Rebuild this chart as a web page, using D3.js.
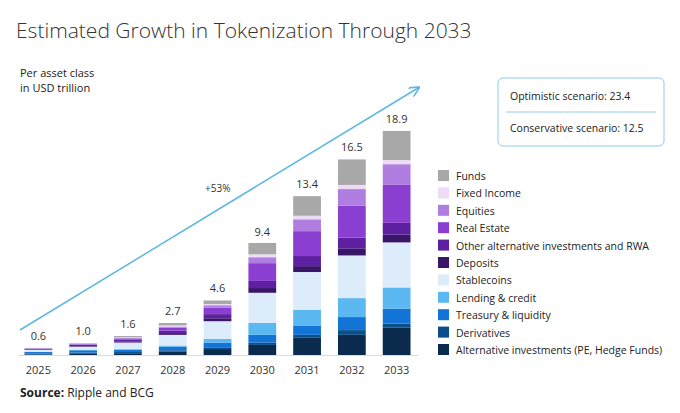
<!DOCTYPE html>
<html><head><meta charset="utf-8">
<script src="https://cdn.jsdelivr.net/npm/d3@7"></script>
<style>body{margin:0;background:#fff;font-family:"Open Sans",sans-serif}</style>
</head><body>
<svg id="chart" width="680" height="413"></svg>
<script>
var years = ["2025","2026","2027","2028","2029","2030","2031","2032","2033"];
var totals = ["0.6","1.0","1.6","2.7","4.6","9.4","13.4","16.5","18.9"];
var classes = ["Alternative investments (PE, Hedge Funds)","Derivatives","Treasury & liquidity","Lending & credit","Stablecoins","Deposits","Other alternative investments and RWA","Real Estate","Equities","Fixed Income","Funds"];
var colors = ["#0a2b4e","#0b4f8a","#1274d6","#5bb8f0","#dcecfb","#3a1668","#5d20a0","#8a3fd0","#b07ee0","#ecdcf5","#a8a8a8"];
// rows follow classes order, columns follow years
var altInv     = [0.05,0.1,0.15,0.3,0.5,0.85,1.45,1.7,2.3];
var derivs     = [0.05,0.1,0.1,0.1,0.15,0.2,0.25,0.4,0.35];
var treasury   = [0.15,0.2,0.2,0.3,0.4,0.65,0.75,1.1,1.25];
var lending    = [0.03,0.05,0.05,0.1,0.3,1.0,1.35,1.6,1.8];
var stable     = [0.15,0.25,0.55,0.9,1.5,2.55,3.2,3.6,3.8];
var deposits   = [0.03,0.05,0.1,0.15,0.25,0.4,0.5,0.6,0.65];
var otherAlt   = [0.05,0.1,0.15,0.2,0.35,0.6,0.85,0.9,1.0];
var realEstate = [0.04,0.05,0.1,0.25,0.55,1.5,2.1,2.7,3.2];
var equities   = [0.02,0.03,0.05,0.1,0.2,0.5,1.0,1.4,1.75];
var fixedInc   = [0.01,0.02,0.05,0.1,0.1,0.25,0.3,0.35,0.35];
var funds      = [0.02,0.05,0.1,0.2,0.3,0.95,1.65,2.15,2.45];
var series = [altInv,derivs,treasury,lending,stable,deposits,otherAlt,realEstate,equities,fixedInc,funds];

var svg = d3.select("#chart");
var x = d3.scaleBand().domain(years).range([20,415]).paddingInner(0.38).paddingOuter(0.1);
var y = d3.scaleLinear().domain([0,18.9]).range([355,131]);

svg.append("text").attr("x",16).attr("y",38).attr("font-size",21).attr("font-weight",300)
  .attr("fill","#333").text("Estimated Growth in Tokenization Through 2033");
svg.append("text").attr("x",20).attr("y",77).attr("font-size",11).attr("fill","#222").text("Per asset class");
svg.append("text").attr("x",20).attr("y",92).attr("font-size",11).attr("fill","#222").text("in USD trillion");

// arrow
svg.append("defs").append("marker").attr("id","ah").attr("viewBox","0 0 10 10").attr("refX",8).attr("refY",5)
  .attr("markerWidth",7).attr("markerHeight",7).attr("orient","auto")
  .append("path").attr("d","M0,0 L10,5 L0,10").attr("fill","none").attr("stroke","#5bb8e0").attr("stroke-width",1.5);
svg.append("line").attr("x1",20).attr("y1",330).attr("x2",418).attr("y2",88)
  .attr("stroke","#5bb8e0").attr("stroke-width",1.5).attr("marker-end","url(#ah)");
svg.append("text").attr("x",205).attr("y",192).attr("font-size",10).attr("fill","#333").text("+53%");

years.forEach(function(yr,i){
  var base = 0;
  series.forEach(function(s,k){
    svg.append("rect").attr("x",x(yr)).attr("width",x.bandwidth())
      .attr("y",y(base+s[i])).attr("height",y(base)-y(base+s[i])).attr("fill",colors[k]);
    base += s[i];
  });
  svg.append("text").attr("x",x(yr)+x.bandwidth()/2).attr("y",y(+totals[i])-8)
    .attr("text-anchor","middle").attr("font-size",11).attr("fill","#333").text(totals[i]);
});
svg.append("line").attr("x1",18).attr("x2",418).attr("y1",355.5).attr("y2",355.5).attr("stroke","#ddd");

var xAxis = svg.append("g").attr("transform","translate(0,356)")
  .call(d3.axisBottom(x).tickSize(0).tickPadding(10));
xAxis.select(".domain").remove();
xAxis.selectAll("text").attr("font-size",11).attr("fill","#333").attr("font-family","Open Sans");

// legend, top to bottom is reverse stack
var lg = svg.append("g");
classes.slice().reverse().forEach(function(c,j){
  var k = classes.length-1-j;
  lg.append("rect").attr("x",438).attr("y",170+j*17.4).attr("width",11).attr("height",11).attr("fill",colors[k]);
  lg.append("text").attr("x",456).attr("y",180+j*17.4).attr("font-size",10.5).attr("fill","#222").text(c);
});

// scenario box
svg.append("rect").attr("x",498).attr("y",78).attr("width",166).attr("height",68).attr("rx",5)
  .attr("fill","#fff").attr("stroke","#8fcbe8");
svg.append("line").attr("x1",506).attr("x2",656).attr("y1",112).attr("y2",112).attr("stroke","#8fcbe8");
svg.append("text").attr("x",510).attr("y",100).attr("font-size",10.5).attr("fill","#222").text("Optimistic scenario: 23.4");
svg.append("text").attr("x",510).attr("y",132).attr("font-size",10.5).attr("fill","#222").text("Conservative scenario: 12.5");

svg.append("text").attr("x",20).attr("y",397).attr("font-size",12).attr("fill","#222")
  .html('<tspan font-weight="bold">Source:</tspan> Ripple and BCG');
</script>
</body></html>
